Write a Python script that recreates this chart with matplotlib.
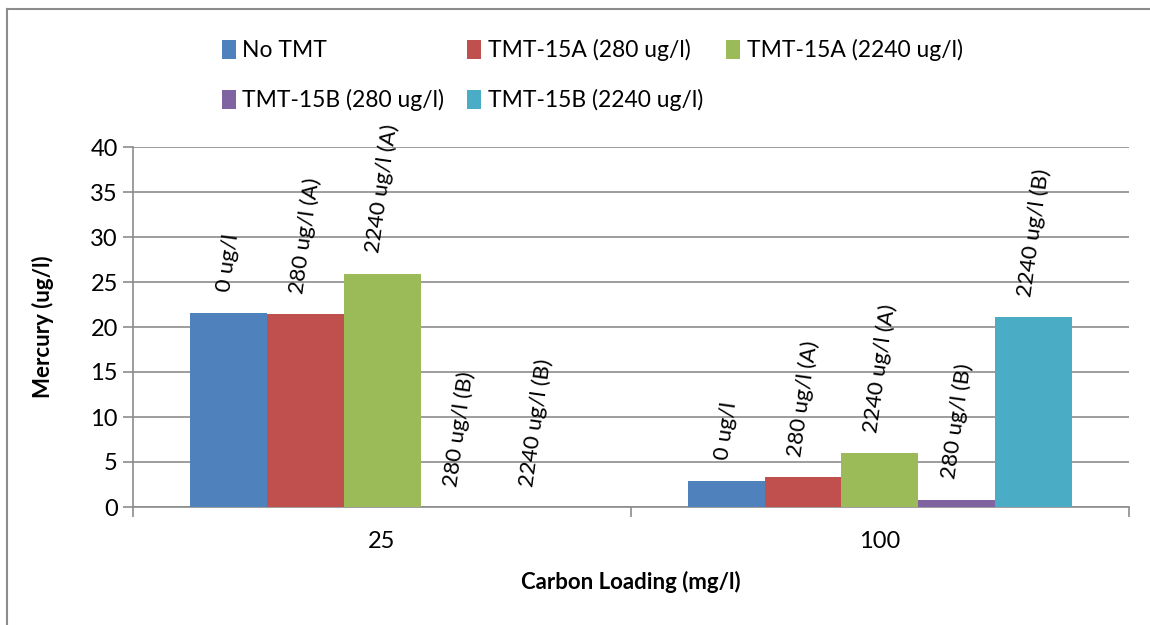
import numpy as np
import matplotlib.pyplot as plt
from matplotlib.lines import Line2D

plt.rcParams['font.family'] = ['Lato', 'DejaVu Sans']

# data
loadings = ["25", "100"]
series = ["No TMT", "TMT-15A (280 ug/l)", "TMT-15A (2240 ug/l)",
          "TMT-15B (280 ug/l)", "TMT-15B (2240 ug/l)"]
bar_labels = ["0 ug/l", "280 ug/l (A)", "2240 ug/l (A)", "280 ug/l (B)", "2240 ug/l (B)"]
mercury = [
    [21.6, 2.9],   # No TMT
    [21.4, 3.3],   # TMT-15A 280
    [25.9, 6.0],   # TMT-15A 2240
    [0.0, 0.8],    # TMT-15B 280
    [0.0, 21.1],   # TMT-15B 2240
]
colors = ["#4F81BD", "#C0504D", "#9BBB59", "#8064A2", "#4BACC6"]

grey = "#8C8C8C"
fig = plt.figure(figsize=(11.5, 6.25), dpi=100)
ax = fig.add_axes([0.1157, 0.1888, 0.866, 0.576])

x = np.arange(len(loadings))
w = 0.1546
handles = []
for i, (name, vals) in enumerate(zip(series, mercury)):
    xs = x + (i - 2) * w
    b = ax.bar(xs, vals, width=w, color=colors[i], label=name, zorder=3)
    handles.append(b)
    for xi, v in zip(xs, vals):
        ax.annotate(bar_labels[i], (xi, v), xytext=(0, 14), textcoords="offset points",
                    ha="center", va="bottom", rotation=82, fontsize=16, zorder=4)

ax.set_xlim(-0.5, 1.5)
ax.set_ylim(0, 40)
ax.set_yticks(np.arange(0, 41, 5))
ax.yaxis.grid(True, color=grey, linewidth=1.2, zorder=0)
ax.set_xticks(x)
ax.set_xticklabels(loadings)
ax.set_xticks([-0.5, 0.5, 1.5], minor=True)
ax.tick_params(axis="x", which="major", length=0, pad=17, labelsize=17)
ax.tick_params(axis="x", which="minor", length=7, width=1.2, color=grey, direction="out")
ax.tick_params(axis="y", length=7, width=1.2, color=grey, labelsize=17, pad=4)
for s in ["top", "right"]:
    ax.spines[s].set_visible(False)
for s in ["left", "bottom"]:
    ax.spines[s].set_color(grey)
    ax.spines[s].set_linewidth(1.2)

ax.set_ylabel("Mercury (ug/l)", fontsize=16, fontweight="bold", labelpad=26)
ax.set_xlabel("Carbon Loading (mg/l)", fontsize=16, fontweight="bold", labelpad=14)

order = [0, 3, 1, 4, 2]
fig.legend([handles[k] for k in order], [series[k] for k in order], ncol=3,
           loc="upper left", bbox_to_anchor=(0.175, 0.97), frameon=False,
           fontsize=16.5, handlelength=0.6, handleheight=0.9, handletextpad=0.3,
           columnspacing=1.0, labelspacing=1.2)

# outer chart border (only top and left visible in the crop)
fig.add_artist(Line2D([7 / 1150, 7 / 1150], [0, 1 - 9 / 625], color=grey, lw=1.5))
fig.add_artist(Line2D([7 / 1150, 1], [1 - 9 / 625, 1 - 9 / 625], color=grey, lw=1.5))

fig.savefig("out.png", dpi=100)
